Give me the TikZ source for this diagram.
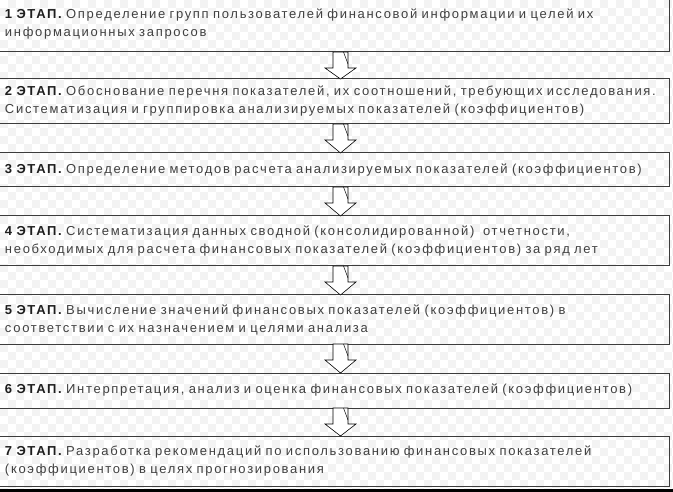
\documentclass[tikz,border=0pt]{standalone}
\usepackage{fontspec}
\usetikzlibrary{calc}
\newfontfamily\stagefamily[LetterSpace=13]{Liberation Sans}
\newcommand\stagefont{\stagefamily\fontsize{13}{18}\selectfont}
\newcommand\etap[1]{{\bfseries\color{lblgray}#1 ЭТАП.} }
\definecolor{boxgray}{HTML}{3C3C3C}
\definecolor{txtgray}{HTML}{404040}
\definecolor{lblgray}{HTML}{1E1E1E}
\definecolor{checkgray}{HTML}{F3F3F3}
\tikzset{
  stage/.style={draw=boxgray,line width=1pt,rectangle,anchor=north west,
    minimum width=673pt,text width=655pt,inner xsep=9pt,inner ysep=0pt,
    outer sep=0pt,align=left,font=\stagefont,text=txtgray},
  arrowline/.style={draw=black,fill=white,line width=0.6pt,line join=miter}
}
\newcommand\stagearrow[2]{%
  \draw[arrowline] ($(#1.south -| ax)+(-7.5,0)$) -- ++(0,-16) -- ++(-8,0)
    -- (#2.north -| ax) -- ($(#1.south -| ax)+(15.5,-16)$) -- ++(-8,0)
    -- ++(0,16) -- cycle;
  \draw[line width=0.5pt] ($(#1.south -| ax)+(3,0)$) -- ($(#1.south -| ax)+(7.5,-12)$);}
\begin{document}
\begin{tikzpicture}[x=1pt,y=1pt]
\useasboundingbox (0,0) rectangle (673,-492);
% background
\fill[white] (0,0) rectangle (673,-492);
\foreach \i in {0,...,84}{
  \foreach \j in {0,...,61}{
    \pgfmathparse{int(mod(\i+\j,2))}
    \ifnum\pgfmathresult=1
      \fill[checkgray] (8*\i,-8*\j) rectangle ++(8,-8);
    \fi}}
\coordinate (ax) at (340.5,0);
\node[stage,minimum height=56pt] (s1) at (-4,4)
  {\etap{1}Определение групп пользователей финансовой информации и целей их\\
   информационных запросов};
\node[stage,minimum height=45pt] (s2) at (-4,-79)
  {\etap{2}Обоснование перечня показателей, их соотношений, требующих исследования.\\
   Систематизация и группировка анализируемых показателей (коэффициентов)};
\node[stage,minimum height=34pt] (s3) at (-4,-153)
  {\etap{3}Определение методов расчета анализируемых показателей (коэффициентов)};
\node[stage,minimum height=50pt] (s4) at (-4,-216)
  {\etap{4}Систематизация данных сводной (консолидированной)\ \ отчетности,\\
   необходимых для расчета финансовых показателей (коэффициентов) за ряд лет};
\node[stage,minimum height=49pt] (s5) at (-4,-295)
  {\etap{5}Вычисление значений финансовых показателей (коэффициентов) в\\
   соответствии с их назначением и целями анализа};
\node[stage,minimum height=35pt] (s6) at (-4,-373)
  {\etap{6}Интерпретация, анализ и оценка финансовых показателей (коэффициентов)};
\node[stage,minimum height=50pt] (s7) at (-4,-436)
  {\etap{7}Разработка рекомендаций по использованию финансовых показателей\\
   (коэффициентов) в целях прогнозирования};
\foreach \a/\b in {s1/s2,s2/s3,s3/s4,s4/s5,s5/s6,s6/s7}
  \stagearrow{\a}{\b};
\fill[black] (0,-489) rectangle (673,-492);
\end{tikzpicture}
\end{document}
